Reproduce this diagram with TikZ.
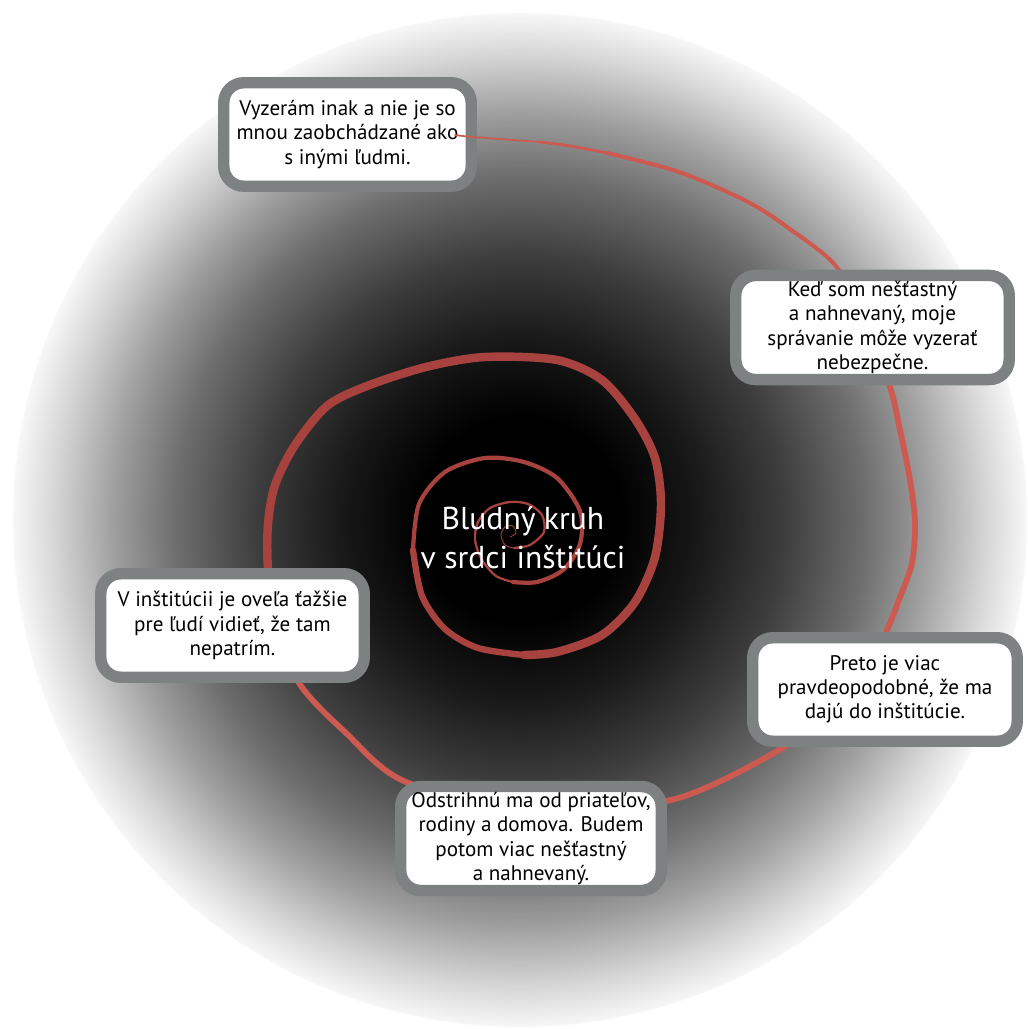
\documentclass[tikz,border=0pt]{standalone}
\usepackage{fontspec}
\setmainfont{PT Sans}
\definecolor{boxgray}{RGB}{126,129,129}
\definecolor{darkred}{RGB}{168,66,62}
\definecolor{coral}{RGB}{205,90,80}
\pgfdeclareradialshading{halo}{\pgfpoint{0bp}{0bp}}{color(0bp)=(black); color(5bp)=(black); color(9bp)=(black!90); color(13bp)=(black!76); color(17bp)=(black!57); color(20bp)=(black!38); color(23bp)=(black!16); color(25bp)=(black!3); color(50bp)=(white)}
\begin{document}
\begin{tikzpicture}[
    note/.style={draw=boxgray, line width=6.5pt, fill=white, rounded corners=0.4cm,
      minimum height=2.07cm, align=center, font=\fontsize{12}{13.8}\selectfont},
    spiral/.style={line cap=round, line join=round}]
  \useasboundingbox (-10.2,-9.84) rectangle (10.34,10.74);
  \fill[white] (-10.2,-9.84) rectangle (10.34,10.74);
  \shade[shading=halo] (0.2,0.34) circle (10.14);
  % spiral, from the middle outwards
  \draw[spiral, darkred, line width=0.5pt] plot[smooth] coordinates {(0,0) (0.12,0.08) (0.06,0.22) (-0.1,0.2) (-0.18,0.04) (-0.1,-0.16) (0.08,-0.22)};
  \draw[spiral, darkred, line width=1.3pt] plot[smooth] coordinates {(0.08,-0.22) (0.4,-0.16) (0.68,0.1) (0.64,0.44) (0.36,0.66) (0,0.7) (-0.4,0.58) (-0.64,0.3) (-0.7,-0.06) (-0.56,-0.46) (-0.28,-0.78) (0.06,-0.9)};
  \draw[spiral, darkred, line width=2.4pt] plot[smooth] coordinates {(0.06,-0.9) (0.54,-0.9) (1.06,-0.66) (1.4,-0.14) (1.4,0.52) (0.94,1.18) (0.28,1.5) (-0.5,1.58) (-1.3,1.3) (-1.82,0.66) (-1.94,-0.26)};
  \draw[spiral, darkred, line width=3.6pt] plot[smooth] coordinates {(-1.94,-0.26) (-1.76,-1.18) (-1.3,-1.84) (-0.64,-2.22) (0.28,-2.36)};
  \draw[spiral, darkred, line width=4.8pt] plot[smooth] coordinates {(0.28,-2.36) (0.94,-2.3) (1.84,-1.96) (2.5,-1.3) (2.9,-0.4) (3.02,0.66) (2.9,1.58) (2.5,2.36) (1.84,3.14) (0.94,3.54) (-0.5,3.6) (-1.68,3.4) (-2.86,3.02) (-3.66,2.62) (-4.3,1.84) (-4.7,1.04) (-4.84,0.26) (-4.84,-0.66) (-4.7,-1.76)};
  \draw[spiral, coral, line width=3.3pt] plot[smooth] coordinates {(-4.7,-1.76) (-4.2,-2.95) (-3.3,-3.9) (-2.08,-4.9) (0.6,-5.5) (3.3,-5.24) (5.52,-4.18) (7.0,-3.06) (7.54,-1.86) (7.8,-1.2) (8.04,-0.52) (8.1,0.28) (8.0,1.14) (7.8,2.14) (7.6,3.0) (7.1,4.34)};
  \draw[spiral, coral, line width=2.3pt] plot[smooth] coordinates {(7.1,4.34) (6.5,5.44) (5.54,6.2) (4.94,6.6) (4.26,6.94) (3.26,7.34) (1.94,7.68)};
  \draw[spiral, coral, line width=1.6pt] plot[smooth] coordinates {(1.94,7.68) (1.2,7.82) (0.6,7.9)};
  \node[note, minimum width=4.95cm] (different) at (-3.25,8.05) {Vyzerám inak a nie je so\\mnou zaobchádzané ako\\s inými ľudmi.};
  \node[note, minimum width=5.47cm] (dangerous) at (7.25,4.19) {Keď som nešťastný\\a nahnevaný, moje\\správanie môže vyzerať\\nebezpečne.};
  \node[note, minimum width=5.29cm] (committed) at (7.5,-3.05) {Preto je viac\\pravdeopodobné, že ma\\dajú do inštitúcie.};
  \node[note, minimum width=5.21cm] (cutoff) at (0.42,-6.03) {Odstrihnú ma od priateľov,\\rodiny a domova. Budem\\potom viac nešťastný\\a nahnevaný.};
  \node[note, minimum width=5.27cm] (unseen) at (-5.55,-1.77) {V inštitúcii je oveľa ťažšie\\pre ľudí vidieť, že tam\\nepatrím.};
  \draw[spiral, coral, line width=1pt] plot[smooth] coordinates {(0.6,7.9) (-0.74,8.0) (-1.1,8.04)};
  \node[text=white, align=center, font=\fontsize{18}{22.5}\selectfont] (title) at (0.26,-0.02) {Bludný kruh\\v srdci inštitúci};
\end{tikzpicture}
\end{document}
